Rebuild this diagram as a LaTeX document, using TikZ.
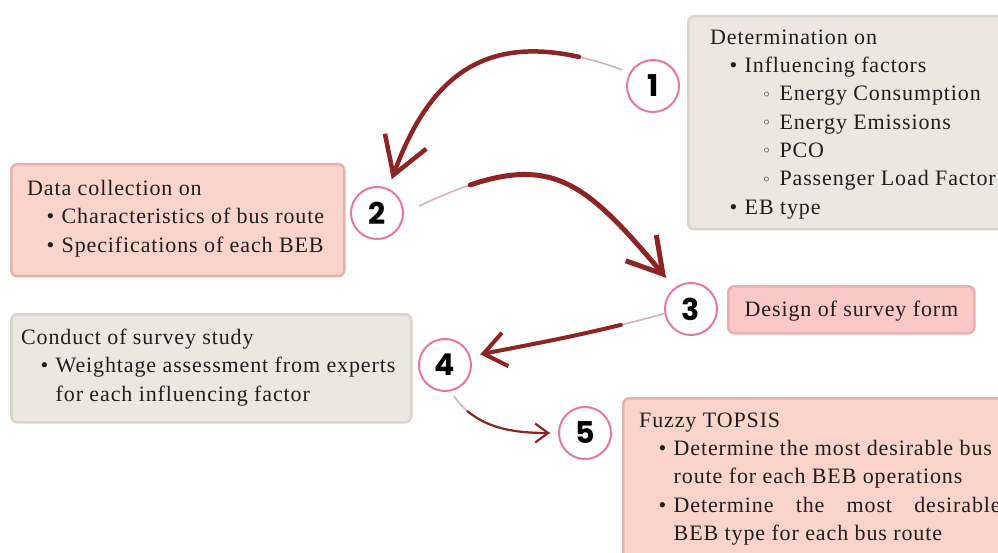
\documentclass[tikz,border=0pt]{standalone}
\usepackage{fontspec}
\setmainfont{Liberation Serif}[LetterSpace=4]
\newfontfamily\numfont{Poppins}
\usepackage{xcolor}
\usetikzlibrary{arrows.meta}

\definecolor{beigefill}{HTML}{EDE7DF}
\definecolor{beigeline}{HTML}{DDD3C6}
\definecolor{salmonfill}{HTML}{FAD3CB}
\definecolor{salmonline}{HTML}{E5B4A9}
\definecolor{rosefill}{HTML}{F9C8C7}
\definecolor{roseline}{HTML}{F0ADAD}
\definecolor{ringpink}{HTML}{E8779E}
\definecolor{brushred}{HTML}{8E2424}
\definecolor{inkgray}{HTML}{1F1F1F}

\newcommand{\itm}{\hspace*{19.5pt}\makebox[15pt][l]{\textbullet}}
\newcommand{\subitm}{\hspace*{53.5pt}\makebox[15.8pt][l]{\raisebox{3.5pt}{\fontsize{12}{12}\selectfont$\circ$}}}
\newcommand{\cont}{\hspace*{34.5pt}}

\begin{document}
\begin{tikzpicture}[x=1pt, y=-1pt,
	card/.style={rectangle, rounded corners=6pt, line width=2.5pt, anchor=north west, inner sep=0pt},
	beigecard/.style={card, fill=beigefill, draw=beigeline},
	salmoncard/.style={card, fill=salmonfill, draw=salmonline},
	rosecard/.style={card, fill=rosefill, draw=roseline},
	cardfont/.style={text=inkgray, font=\fontsize{22}{28.3}\selectfont},
	cardtext/.style={cardfont, anchor=north west, inner sep=0pt, align=left, execute at begin node=\strut, execute at end node=\strut},
	stepnum/.style={circle, draw=ringpink, line width=2pt, fill=white, minimum size=52pt, inner sep=0pt, font=\numfont\bfseries\fontsize{30}{30}\selectfont},
	faint/.style={draw=brushred!35, line width=1.6pt, line cap=round},
	brush/.style={draw=brushred, line cap=round, line join=round},
	fadestart/.style={dash pattern=on 2000pt off #1, dash phase=2000pt}]
	\useasboundingbox (0,0) rectangle (998,553);
	\clip (0,0) rectangle (998,553);
	\node[beigecard, minimum width=400pt, minimum height=213pt] (detbox) at (687,15) {};
	\node[salmoncard, minimum width=333pt, minimum height=112pt] (databox) at (10,163) {};
	\node[rosecard, minimum width=246pt, minimum height=47pt] (formbox) at (727,285) {};
	\node[beigecard, minimum width=400pt, minimum height=108pt] (surveybox) at (10,313) {};
	\node[salmoncard, minimum width=400pt, minimum height=180pt] (topsisbox) at (622,397) {};
	\node[cardtext] (dettext) at (710,29.5) {Determination on\\ \itm Influencing factors\\ \subitm Energy Consumption\\ \subitm Energy Emissions\\ \subitm PCO\\ \subitm Passenger Load Factor\\ \itm EB type};
	\node[cardtext] (datatext) at (27,180) {Data collection on\\ \itm Characteristics of bus route\\ \itm Specifications of each BEB};
	\node[cardfont, anchor=base, inner sep=0pt] (formtext) at (851.5,316.5) {Design of survey form};
	\node[cardtext] (surveytext) at (21,329) {Conduct of survey study\\ \itm Weightage assessment from experts\\ \cont for each influencing factor};
	\node[cardtext] (topsistext) at (639,412.5) {Fuzzy TOPSIS\\ \itm Determine the most desirable bus\\ \cont route for each BEB operations\\ \itm\makebox[327pt][s]{Determine the most desirable}\\ \cont BEB type for each bus route};
	\foreach \n/\x/\y in {1/653/86, 2/377/213, 3/691/309, 4/445/365, 5/585/433}
		{\node[stepnum] (step\n) at (\x,\y) {\n}; }
	\draw[faint, shorten <=8pt, shorten >=10pt] (step1.150) to[out=160, in=70, looseness=1.3] (step2.65);
	\draw[brush, line width=4.5pt, fadestart=45pt, shorten <=8pt, shorten >=10pt, -{Straight Barb[length=36pt, width=44pt]}] (step1.150) to[out=160, in=70, looseness=1.3] (step2.65);
	\draw[faint, shorten <=17pt, shorten >=13pt] (step2.east) to[out=25, in=130, looseness=1.4] (step3.128);
	\draw[brush, line width=5pt, fadestart=55pt, shorten <=17pt, shorten >=13pt, -{Straight Barb[length=34pt, width=40pt]}] (step2.east) to[out=25, in=130, looseness=1.4] (step3.128);
	\draw[faint, shorten >=10pt] (step3.190) to[out=195, in=11] (step4.19);
	\draw[brush, line width=4pt, fadestart=45pt, shorten >=10pt, -{Straight Barb[length=22pt, width=34pt]}] (step3.190) to[out=195, in=11] (step4.19);
	\draw[faint, shorten <=6pt, shorten >=8pt] (step4.-78) to[out=-55, in=180] (step5.west);
	\draw[brush, line width=2.2pt, fadestart=20pt, shorten <=6pt, shorten >=8pt, -{Straight Barb[length=13pt, width=19pt]}] (step4.-78) to[out=-55, in=180] (step5.west);
\end{tikzpicture}
\end{document}
